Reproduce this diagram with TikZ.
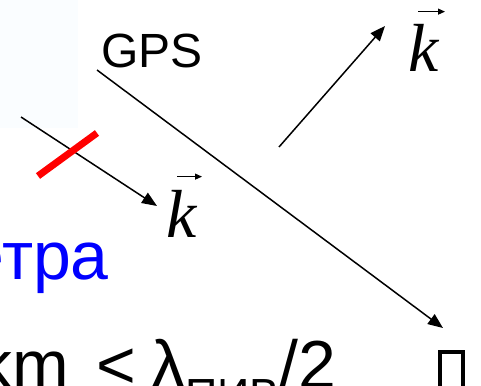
\documentclass[tikz,border=0pt]{standalone}
\usepackage{fontspec}
\setmainfont{Liberation Sans}
\newfontfamily\serifit{Liberation Serif}
\usetikzlibrary{arrows.meta}
\definecolor{faintbg}{RGB}{250,253,255}
\begin{document}
\begin{tikzpicture}[x=1pt,y=-1pt,
  conn/.style={line width=1.5pt, -{Triangle[length=15pt,width=12pt]}},
  lbl/.style={inner sep=0pt, anchor=base west},
  bigtext/.style={font=\fontsize{68}{68}\selectfont},
  veck/.style={inner sep=0pt, anchor=base west, font=\fontsize{68}{68}\selectfont\serifit\itshape},
  vecarrow/.style={line width=1.1pt, -{Triangle[length=7pt,width=6pt]}},
  cutline/.style={red, line width=7pt}]
\useasboundingbox (0,0) rectangle (481,385);
\clip (0,0) rectangle (481,385);
\fill[faintbg] (0,0) rectangle (78,128);
% texts
\node[lbl, font=\fontsize{48}{48}\selectfont] (gps) at (101,68) {GPS};
\node[lbl, bigtext, anchor=base east, text={rgb,255:red,0;green,0;blue,255}] (etra) at (109,279) {етра};
\node[lbl, bigtext] (ineq) at (-21.2,388) {km\hspace{26.5pt}<\hspace{15.3pt}λ\raisebox{-22pt}{\fontsize{45}{45}\selectfont ПИВ}/2};
% k vectors
\node[veck] (k1) at (408,72) {k};
\draw[vecarrow] ([xshift=10pt,yshift=13pt]k1.north west) -- ([xshift=37pt,yshift=13pt]k1.north west);
\node[veck] (k2) at (166,237) {k};
\draw[vecarrow] ([xshift=11pt,yshift=13pt]k2.north west) -- ([xshift=36pt,yshift=13pt]k2.north west);
% rays
\coordinate (r1s) at (97,70);   \coordinate (r1e) at (443,328);
\coordinate (r2s) at (21,117);  \coordinate (r2e) at (157,206);
\coordinate (r3s) at (279,147); \coordinate (r3e) at (385,26);
\draw[conn] (r1s) -- (r1e);
\draw[conn] (r2s) -- (r2e);
\draw[conn] (r3s) -- (r3e);
% red mark
\coordinate (c1) at (38,176); \coordinate (c2) at (97,133);
\draw[cutline] (c1) -- (c2);
% box glyph at right
\draw[line width=4pt] (440,392) -- (440,352) -- (463,352) -- (463,392);
\end{tikzpicture}
\end{document}
